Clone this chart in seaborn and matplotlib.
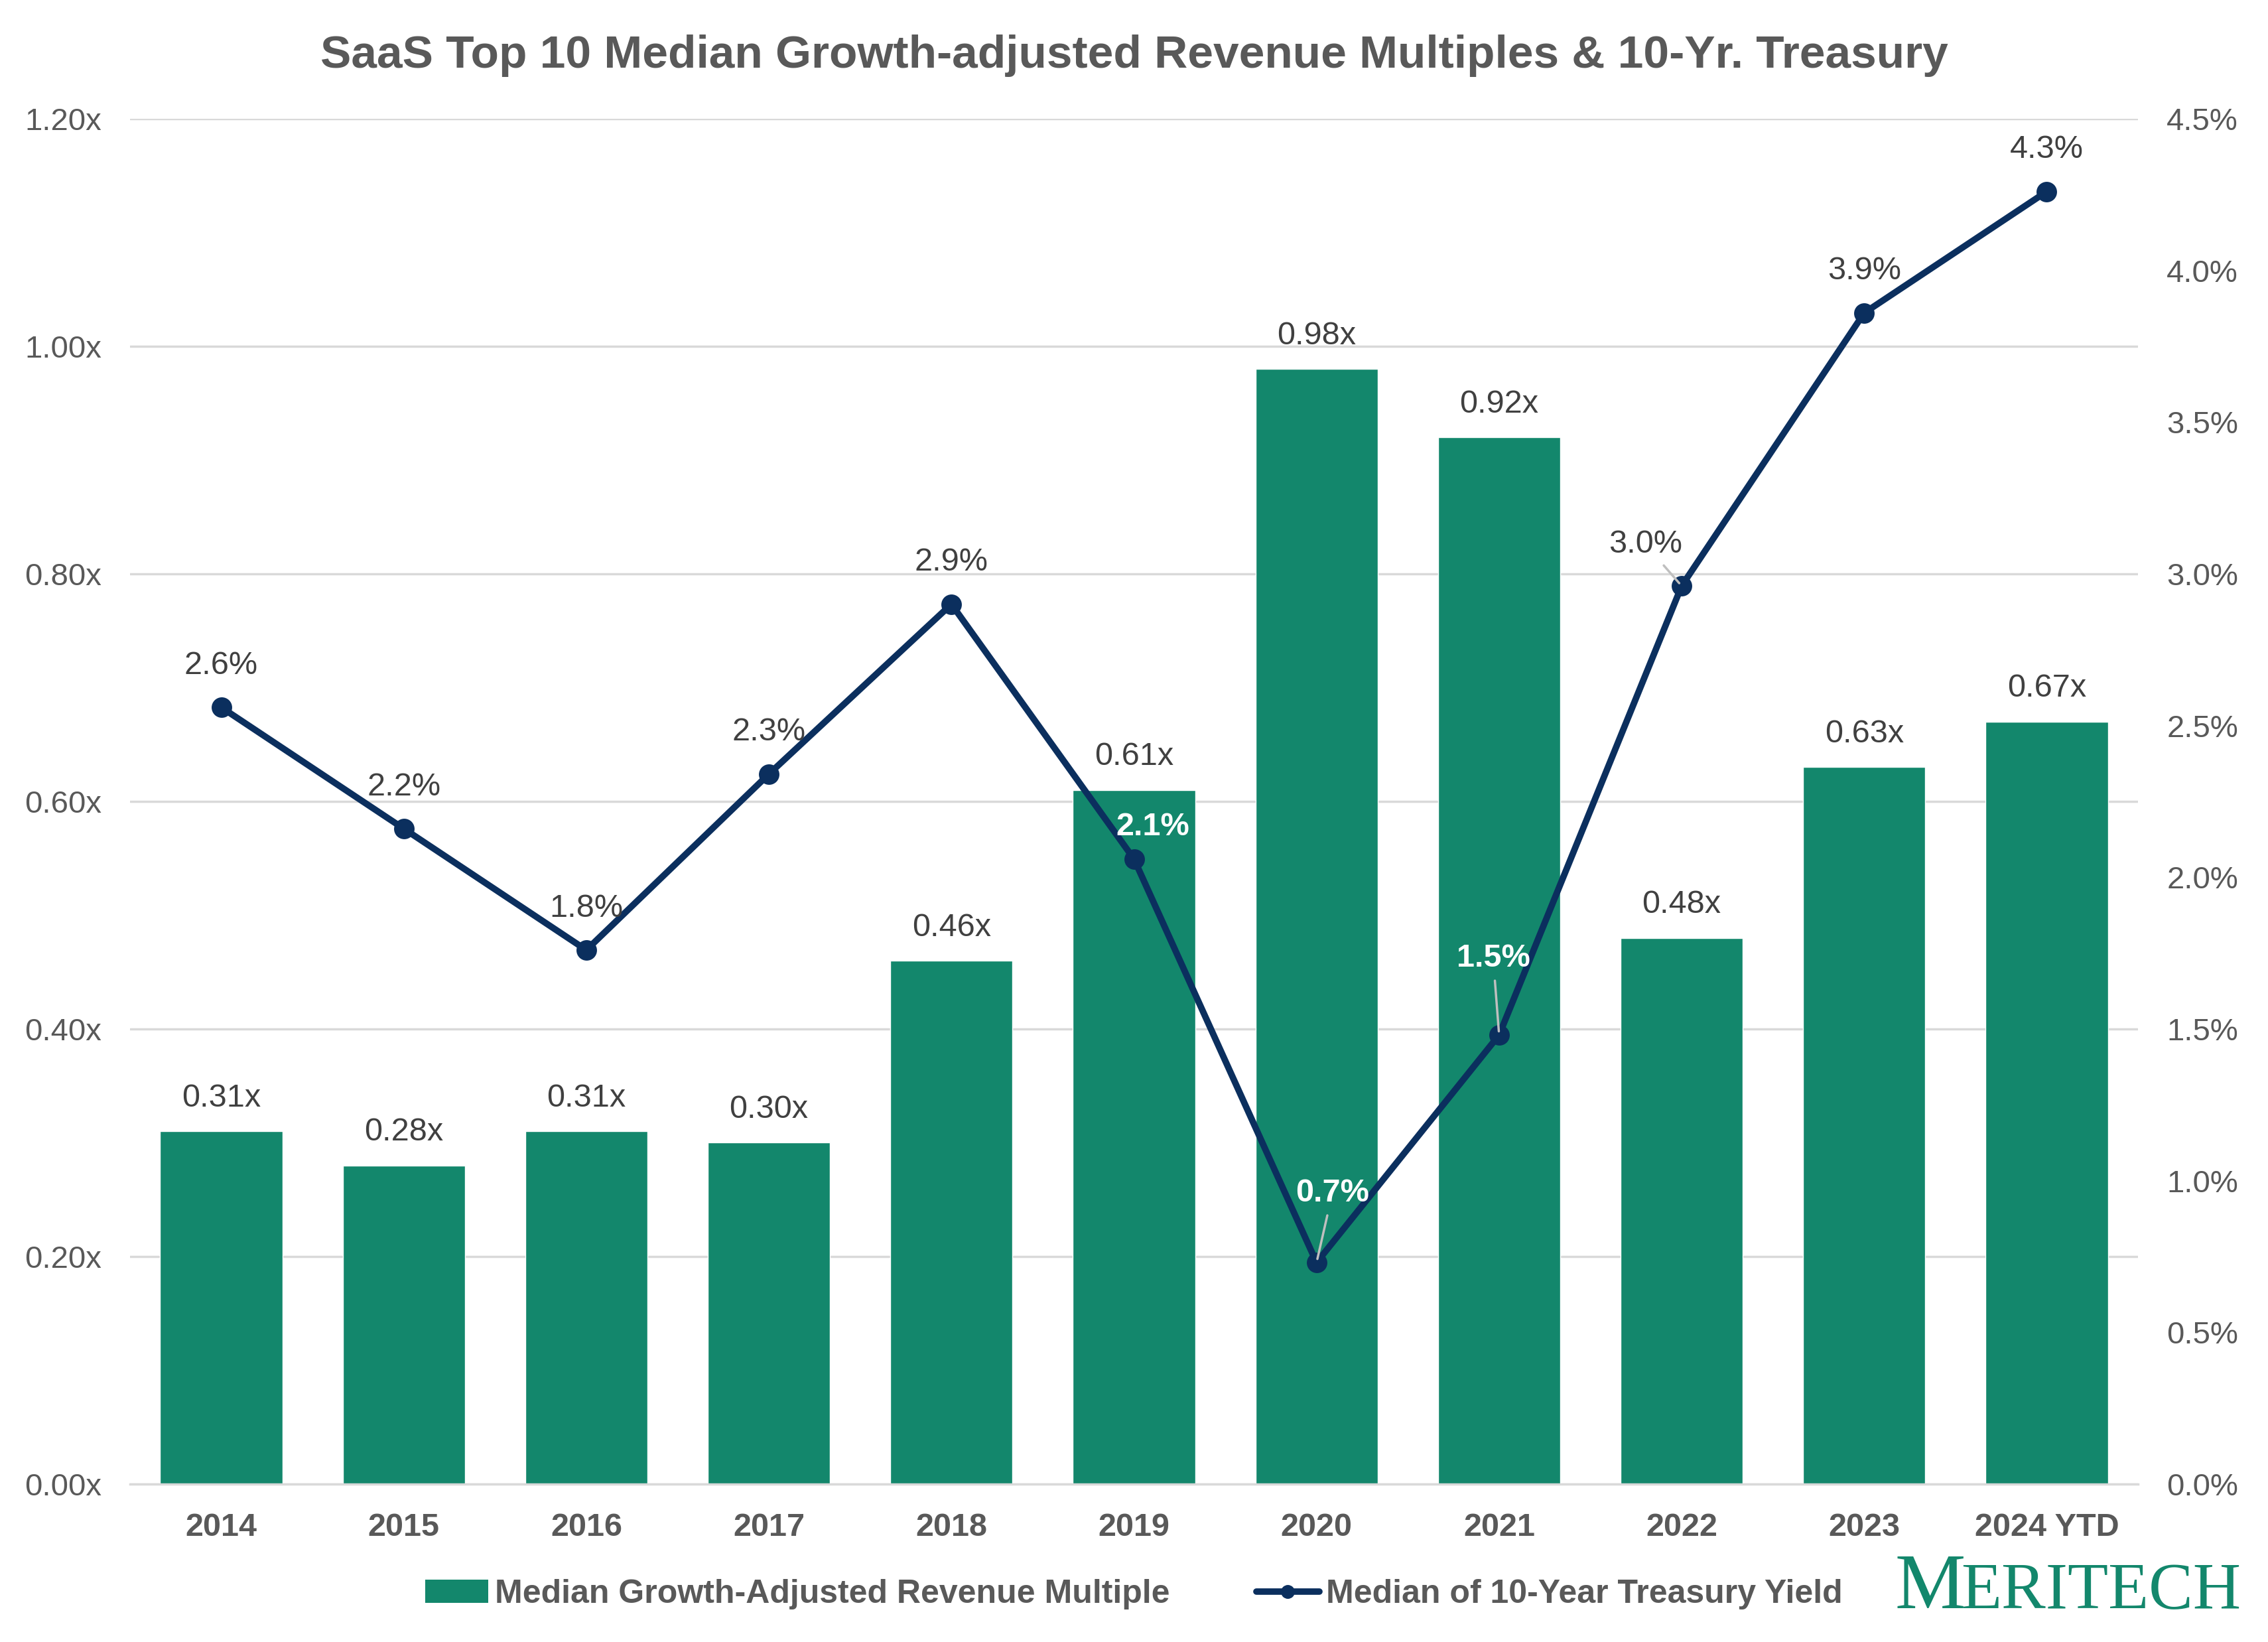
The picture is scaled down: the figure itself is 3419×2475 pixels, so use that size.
import numpy as np
import pandas as pd
import matplotlib
matplotlib.use("Agg")
import matplotlib.pyplot as plt
import seaborn as sns
from matplotlib.ticker import FuncFormatter, MultipleLocator
from matplotlib.lines import Line2D
from matplotlib.patches import Patch

# data
years = ["2014", "2015", "2016", "2017", "2018", "2019", "2020", "2021", "2022", "2023", "2024 YTD"]
multiples = [0.31, 0.28, 0.31, 0.30, 0.46, 0.61, 0.98, 0.92, 0.48, 0.63, 0.67]
treasury = [2.56, 2.16, 1.76, 2.34, 2.90, 2.06, 0.73, 1.48, 2.96, 3.86, 4.26]

df = pd.DataFrame({"year": years, "multiple": multiples, "treasury": treasury})

green = "#13876C"
navy = "#0B2F5E"
gray = "#595959"
dark = "#404040"

sns.set_theme(style="white")
plt.rcParams["font.family"] = ["Liberation Sans", "DejaVu Sans"]

fig = plt.figure(figsize=(34.19, 24.75), dpi=100)
ax = fig.add_axes([0.0573, 0.0962, 0.8854, 0.8315])

sns.barplot(data=df, x="year", y="multiple", color=green, saturation=1,
            width=0.67, ax=ax, zorder=2)
ax.set_ylim(0, 1.2)
ax.yaxis.set_major_locator(MultipleLocator(0.2))
ax.yaxis.set_major_formatter(FuncFormatter(lambda v, p: f"{v:.2f}x"))
ax.yaxis.grid(True, color="#D9D9D9", linewidth=2.5)
ax.set_axisbelow(True)
ax.set_xlabel("")
ax.set_ylabel("")
for s in ["top", "left", "right"]:
    ax.spines[s].set_visible(False)
ax.spines["bottom"].set_color("#D9D9D9")
ax.spines["bottom"].set_linewidth(2.5)
ax.tick_params(axis="y", length=0, pad=31, labelsize=34, labelcolor=gray)
ax.tick_params(axis="x", length=0, pad=31, labelsize=35, labelcolor=gray)
for t in ax.get_xticklabels():
    t.set_fontweight("bold")

# bar labels
for i, v in enumerate(multiples):
    ax.annotate(f"{v:.2f}x", (i, v), xytext=(0, 50), textcoords="offset pixels",
                ha="center", va="center", fontsize=35, color=dark)

ax2 = ax.twinx()
sns.pointplot(data=df, x="year", y="treasury", ax=ax2, color=navy,
              markersize=17, linewidth=7, errorbar=None)
ax2.set_ylim(0, 4.5)
ax2.yaxis.set_major_locator(MultipleLocator(0.5))
ax2.yaxis.set_major_formatter(FuncFormatter(lambda v, p: f"{v:.1f}%"))
ax2.set_ylabel("")
ax2.set_xlabel("")
for s in ax2.spines.values():
    s.set_visible(False)
ax2.tick_params(axis="y", length=0, pad=31, labelsize=34, labelcolor=gray)
ax.set_xlim(-0.5, 10.5)
ax2.set_xlim(-0.5, 10.5)

# line labels: (dx, dy) in pixels, white/bold inside bars, leader lines for some
offsets = {5: (28, 48), 6: (24, 105), 7: (-9, 116), 8: (-55, 63)}
white_idx = [5, 6, 7]
leader_idx = [6, 7, 8]
for i, v in enumerate(treasury):
    dx, dy = offsets.get(i, (0, 63))
    white = i in white_idx
    kw = dict(xytext=(dx, dy), textcoords="offset pixels", ha="center", va="center",
              fontsize=35, color="white" if white else dark,
              fontweight="bold" if white else "normal")
    if i in leader_idx:
        kw["arrowprops"] = dict(arrowstyle="-", color="#BFBFBF", lw=2.5,
                                shrinkA=6, shrinkB=4)
    ax2.annotate(f"{v:.1f}%", (i, v), **kw)

fig.suptitle("SaaS Top 10 Median Growth-adjusted Revenue Multiples & 10-Yr. Treasury",
             x=0.5, y=0.966, va="center", fontsize=50, fontweight="bold", color=gray)

handles = [Patch(facecolor=green, edgecolor="none"),
           Line2D([0], [0], color=navy, lw=7, marker="o", markersize=14)]
labels = ["Median Growth-Adjusted Revenue Multiple", "Median of 10-Year Treasury Yield"]
fig.legend(handles, labels, loc="center", bbox_to_anchor=(0.5, 0.029), ncol=2,
           frameon=False, prop={"weight": "bold", "size": 36}, labelcolor=gray,
           handletextpad=0.2, columnspacing=2.6, handlelength=1.9)

# logo in small caps, second part placed right after the first
m = fig.text(0.8355, 0.0206, "M", fontsize=86, color=green, family="Liberation Serif",
             ha="left", va="baseline")
r = fig.canvas.get_renderer()
bb = m.get_window_extent(r)
fig.text(bb.x1 / fig.bbox.width - 0.002, 0.0206, "ERITECH", fontsize=72, color=green,
         family="Liberation Serif", ha="left", va="baseline")

fig.savefig("out.png", dpi=100)
